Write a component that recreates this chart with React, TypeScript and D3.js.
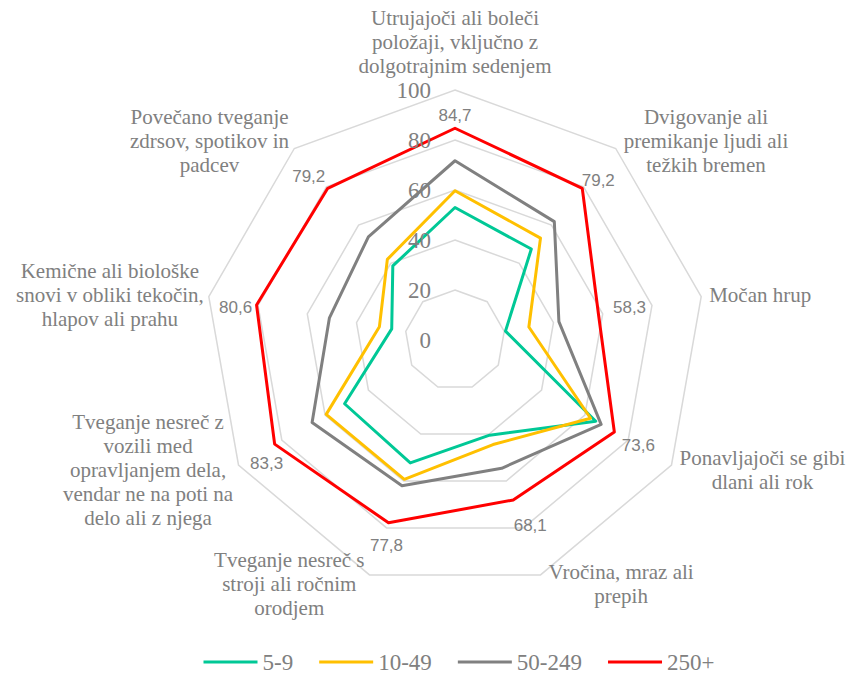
import React, { useEffect, useRef } from 'react';
import * as d3 from 'd3';

// categories (clockwise from top), split into lines as in the source chart
const categories: string[][] = [
  ['Utrujajoči ali boleči', 'položaji, vključno z', 'dolgotrajnim sedenjem'],
  ['Dvigovanje ali', 'premikanje ljudi ali', 'težkih bremen'],
  ['Močan hrup'],
  ['Ponavljajoči se gibi', 'dlani ali rok'],
  ['Vročina, mraz ali', 'prepih'],
  ['Tveganje nesreč s', 'stroji ali ročnim', 'orodjem'],
  ['Tveganje nesreč z', 'vozili med', 'opravljanjem dela,', 'vendar ne na poti na', 'delo ali z njega'],
  ['Kemične ali biološke', 'snovi v obliki tekočin,', 'hlapov ali prahu'],
  ['Povečano tveganje', 'zdrsov, spotikov in', 'padcev'],
];

const seriesNames = ['5-9', '10-49', '50-249', '250+'];
const values5_9 = [53, 47.5, 20.5, 65, 40.5, 52.3, 51, 25.7, 38.7];
const values10_49 = [59.7, 53.2, 30, 62.6, 44.5, 59.3, 59.5, 30.7, 42.1];
const values50_249 = [71.7, 61.8, 42.2, 67.5, 54.6, 62, 66, 51, 53.9];
const values250 = [84.7, 79.2, 58.3, 73.6, 68.1, 77.8, 83.3, 80.6, 79.2];
const radialTicks = [0, 20, 40, 60, 80, 100];

const colors = ['#00c896', '#ffc000', '#808080', '#ff0000'];
// small nudges of the 250+ value labels relative to their points
const labelNudge: [number, number][] = [
  [0, -13], [16, -8], [31, -7], [24, 13], [17, 26], [-2, 23], [-8, 19], [-21, 2], [-19, -12],
];

const W = 852;
const H = 675;

const App: React.FC = () => {
  const ref = useRef<SVGSVGElement | null>(null);

  useEffect(() => {
    const svg = d3.select(ref.current);
    svg.selectAll('*').remove();

    const cx = 455;
    const cy = 340;
    const r = d3.scaleLinear().domain([0, 100]).range([0, 250]);
    const n = categories.length;
    const ang = (i: number) => (i * 2 * Math.PI) / n;
    const pt = (i: number, v: number): [number, number] => [
      cx + r(v) * Math.sin(ang(i)),
      cy - r(v) * Math.cos(ang(i)),
    ];
    const serif = 'Liberation Serif, Tinos, Noto Serif, DejaVu Serif, serif';
    const sans = 'Liberation Sans, Arimo, Arial, sans-serif';
    const textGray = '#808080';

    const idx = d3.range(n);
    const ring = d3.line<number>().curve(d3.curveLinearClosed);

    // grid rings
    svg.append('g')
      .selectAll('path')
      .data(radialTicks.filter(t => t > 0))
      .join('path')
      .attr('d', t => ring(idx.map(i => pt(i, t))))
      .attr('fill', 'none')
      .attr('stroke', '#d9d9d9')
      .attr('stroke-width', 1.5);

    // series
    const allSeries = [values5_9, values10_49, values50_249, values250];
    svg.append('g')
      .selectAll('path')
      .data(allSeries)
      .join('path')
      .attr('d', s => ring(s.map((v, i) => pt(i, v))))
      .attr('fill', 'none')
      .attr('stroke', (_, k) => colors[k])
      .attr('stroke-width', 3)
      .attr('stroke-linejoin', 'round');

    // radial tick labels
    svg.append('g')
      .selectAll('text')
      .data(radialTicks)
      .join('text')
      .attr('x', cx - 24)
      .attr('y', t => cy - r(t))
      .attr('text-anchor', 'end')
      .attr('dominant-baseline', 'central')
      .style('font-family', serif)
      .attr('font-size', 23)
      .attr('fill', textGray)
      .text(t => t);

    // data labels of 250+
    const fmt = (v: number) => d3.format('.1f')(v).replace('.', ',');
    svg.append('g')
      .selectAll('text')
      .data(values250)
      .join('text')
      .attr('x', (v, i) => pt(i, v)[0] + labelNudge[i][0])
      .attr('y', (v, i) => pt(i, v)[1] + labelNudge[i][1])
      .attr('text-anchor', 'middle')
      .attr('dominant-baseline', 'central')
      .style('font-family', sans)
      .attr('font-size', 17)
      .attr('fill', textGray)
      .text(v => fmt(v));

    // category labels
    const lh = 24;
    categories.forEach((lines, i) => {
      const g = svg.append('g');
      lines.forEach((line, k) => {
        g.append('text')
          .attr('x', 0)
          .attr('y', k * lh)
          .attr('text-anchor', 'middle')
          .attr('dominant-baseline', 'central')
          .style('font-family', serif)
          .attr('font-size', 21)
          .attr('fill', textGray)
          .text(line);
      });
      const w = (g.node() as SVGGElement).getBBox().width;
      const [vx, vy] = pt(i, 100);
      const s = Math.sin(ang(i));
      const c = Math.cos(ang(i));
      const m = lines.length;
      let tx = vx;
      let ty = vy - c * 10 - ((m - 1) * lh) / 2;
      if (i === 0) {
        ty = vy - 12 - ((m - 1) * lh + lh / 2);
      } else if (s > 0) {
        tx = vx + 8 + w / 2;
      } else {
        tx = vx - 5 - w / 2;
      }
      g.attr('transform', `translate(${tx},${ty})`);
    });

    // legend
    const legend = svg.append('g');
    let x = 0;
    seriesNames.forEach((name, k) => {
      legend.append('line')
        .attr('x1', x).attr('x2', x + 54)
        .attr('y1', 0).attr('y2', 0)
        .attr('stroke', colors[k])
        .attr('stroke-width', 3);
      const t = legend.append('text')
        .attr('x', x + 59)
        .attr('y', 0)
        .attr('dominant-baseline', 'central')
        .style('font-family', serif)
        .attr('font-size', 23)
        .attr('fill', textGray)
        .text(name);
      const tw = (t.node() as SVGTextElement).getComputedTextLength();
      x += 59 + tw + 26;
    });
    const total = x - 26;
    legend.attr('transform', `translate(${459 - total / 2},662)`);
  }, []);

  return (
    <svg
      ref={ref}
      width={W}
      height={H}
      style={{ position: 'absolute', left: 0, top: 0, background: '#fff' }}
    />
  );
};

export default App;
